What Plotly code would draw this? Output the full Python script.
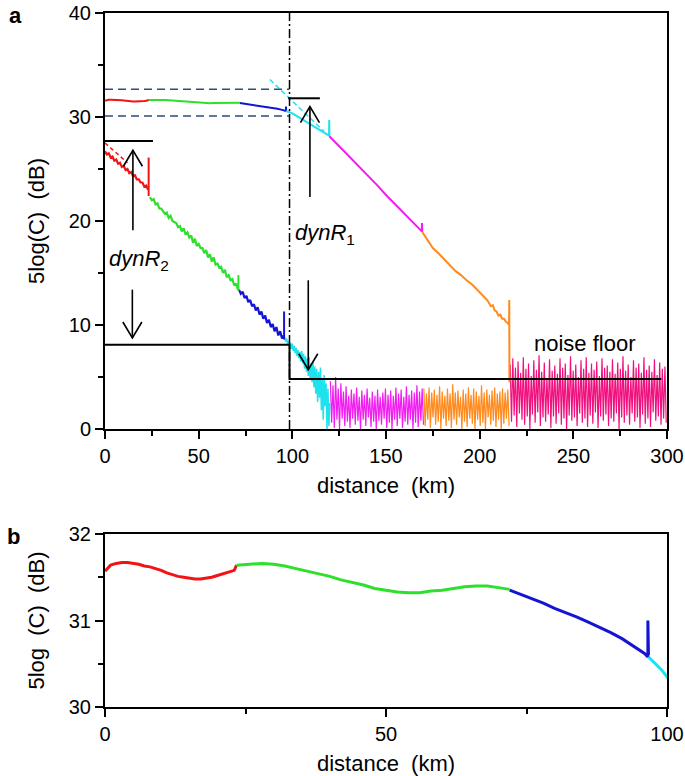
import plotly.graph_objects as go

FONT = "Liberation Sans, Arial, sans-serif"

C_RED = "#F01414"
C_GREEN = "#2CE02C"
C_BLUE = "#1414D2"
C_CYAN = "#1EE3EE"
C_MAGENTA = "#F01EF0"
C_ORANGE = "#FF8A1E"
C_PINK = "#F0107E"
C_NAVY = "#2E4C7C"

# ---------------- upper trace (dB) ----------------
red_up_x = [0, 1, 2, 3, 4, 5, 6, 7, 8, 9, 10, 11, 12, 13, 14, 15, 16, 17, 18, 19, 20, 21, 22, 23, 23.4]
red_up_y = [31.57, 31.64, 31.66, 31.67, 31.67, 31.66, 31.65, 31.63, 31.62, 31.60, 31.58, 31.55,
            31.53, 31.51, 31.50, 31.49, 31.48, 31.48, 31.49, 31.50, 31.52, 31.54, 31.56, 31.58, 31.64]
green_up_x = [23.4, 26, 28, 30, 32, 34, 36, 38, 40, 42, 44, 46, 48, 50, 52, 54, 56, 58, 60, 62, 64, 66, 68, 70, 72]
green_up_y = [31.64, 31.65, 31.66, 31.65, 31.63, 31.60, 31.57, 31.54, 31.51, 31.47, 31.44, 31.41, 31.37,
              31.35, 31.33, 31.32, 31.32, 31.34, 31.35, 31.37, 31.39, 31.40, 31.40, 31.38, 31.36]
blue_up_x = [72, 74, 76, 78, 80, 82, 84, 86, 88, 90, 92, 94, 96, 96.6, 96.6, 96.7]
blue_up_y = [31.35, 31.30, 31.25, 31.20, 31.14, 31.09, 31.04, 30.98, 30.92, 30.86, 30.79, 30.71, 30.62,
             30.58, 31.00, 30.60]
cyan_up_x = [96.7, 98, 99, 100, 102, 105, 108, 111, 114, 117, 119.6, 119.7, 119.8]
cyan_up_y = [30.58, 30.50, 30.43, 30.35, 30.13, 29.80, 29.47, 29.14, 28.81, 28.48, 28.20, 29.70, 28.15]
magenta_up_x = [119.8, 125, 130, 135, 140, 145, 150, 155, 160, 165, 169.1, 169.2, 169.3]
magenta_up_y = [28.15, 27.2, 26.3, 25.3, 24.4, 23.5, 22.5, 21.6, 20.7, 19.8, 19.0, 19.8, 18.95]
orange_up_x = [169.3, 172, 175, 178, 181, 184, 187, 190, 193, 196, 199, 202, 204, 206, 207, 208, 209, 210,
               211, 212, 213, 214, 215, 215.7, 215.8, 215.9]
orange_up_y = [18.95, 18.2, 17.4, 16.9, 16.3, 15.8, 15.2, 14.8, 14.3, 13.9, 13.3, 12.8, 12.4, 11.8, 11.9,
               11.4, 11.3, 10.9, 11.0, 10.6, 10.6, 10.3, 10.2, 10.0, 12.4, 4.5]

# fitted (dashed) extensions
red_fit_x = [0, 12]
red_fit_y = [27.5, 25.6]
cyan_fit_x = [88, 117]
cyan_fit_y = [33.6, 28.6]

# ---------------- lower trace (dB), sampled from x0 with step dx ----------------
red_lo_x0, red_lo_dx = 0.0, 1.0
red_lo = [26.7, 26.4, 26.5, 26.1, 26.2, 25.8, 25.9, 25.5, 25.6, 25.2, 25.3, 24.9, 25.0, 24.6, 24.7,
          24.3, 24.4, 24.0, 24.0, 23.7, 23.7, 23.3, 23.4, 23.0]
green_lo_x0, green_lo_dx = 24.0, 1.0
green_lo = [22.3, 22.0, 22.1, 21.6, 21.7, 21.2, 21.2, 21.0, 20.7, 20.8,
            20.3, 20.5, 20.0, 19.9, 19.8, 19.4, 19.5, 19.0, 19.3, 18.7,
            18.9, 18.4, 18.6, 17.9, 18.3, 17.6, 17.8, 17.4, 17.4, 16.9,
            17.2, 16.5, 16.8, 16.1, 16.5, 15.8, 15.9, 15.5, 15.6, 15.0,
            15.3, 14.6, 14.8, 14.3, 14.4, 13.8, 14.0, 13.4]
blue_lo_x0, blue_lo_dx = 71.5, 1.0
blue_lo = [13.4, 13.0, 13.2, 12.6, 12.8, 12.2, 12.4, 11.8, 12.0, 11.4, 11.7, 11.0, 11.3, 10.6, 10.9,
           10.2, 10.5, 9.8, 10.1, 9.4, 9.8, 9.0, 9.4, 8.7, 9.0]
cyan_lo_x0, cyan_lo_dx = 96.0, 0.5
cyan_lo = [8.8, 8.4, 8.7, 8.1, 8.5, 7.9, 8.3, 7.7, 8.2, 7.5,
           8.0, 7.3, 7.8, 7.0, 7.6, 6.8, 7.4, 6.5, 7.5, 6.3,
           7.2, 5.8, 7.0, 5.5, 6.8, 5.1, 6.9, 4.8, 6.3, 4.5,
           6.5, 4.0, 6.0, 3.4, 5.8, 2.6, 5.5, 3.0, 5.9, 1.8,
           4.8, 0.9, 5.2, 2.2, 4.4, 0.0, 3.9, 0.3, 2.5]
# spikes at span ends: position, low, high
spike_x = [23.3, 71.2, 95.6]
spike_lo = [22.4, 13.3, 8.6]
spike_hi = [26.1, 14.8, 11.3]
spike_col = [C_RED, C_GREEN, C_BLUE]

# noise
mag_x0, noise_dx = 120.3, 0.7
mag_noise = [4.6, 0.6, 4.2, 0.1, 5.0, 0.9, 3.9, 0.0, 4.4, 1.0,
             3.6, 0.3, 4.1, 0.7, 3.2, 0.1, 3.8, 1.0, 3.4, 0.4,
             4.0, 0.8, 3.1, 0.0, 3.7, 0.9, 3.3, 0.3, 3.9, 1.1,
             3.0, 0.2, 3.6, 0.7, 3.2, 0.0, 3.8, 0.8, 3.1, 0.4,
             3.5, 1.0, 3.9, 0.1, 3.3, 0.6, 3.7, 0.0, 3.2, 0.9,
             4.0, 0.3, 3.4, 1.0, 3.8, 0.1, 3.1, 0.7, 4.1, 0.4,
             3.3, 0.9, 3.7, 0.0, 3.5, 0.6, 4.2, 0.2, 3.6, 0.8,
             3.9, 0.4]
org_x0 = 170.2
org_noise = [3.9, 0.3, 3.4, 0.9, 4.0, 0.1, 3.5, 1.1, 3.8, 0.4,
             3.3, 0.7, 4.1, 0.0, 3.6, 1.0, 3.2, 0.3, 3.9, 0.8,
             3.4, 0.1, 4.3, 0.9, 3.5, 0.4, 3.7, 1.1, 3.1, 0.0,
             3.8, 0.7, 3.4, 0.2, 4.0, 1.0, 3.3, 0.5, 3.9, 0.0,
             3.6, 0.9, 3.2, 0.3, 4.2, 0.6, 3.5, 0.0, 3.8, 1.1,
             3.3, 0.4, 3.7, 0.8, 4.0, 0.2, 3.4, 0.9, 3.6, 0.0,
             3.9, 0.5, 3.5, 1.0, 3.8, 0.3]
pink_x0 = 216.3
pink_noise = [6.2, 0.7, 6.8, 1.3, 5.9, 0.2, 6.5, 1.5, 5.4, 0.9,
              6.9, 0.4, 5.8, 1.2, 6.3, 0.0, 5.1, 1.4, 6.6, 0.6,
              5.7, 1.6, 7.1, 0.3, 5.5, 1.1, 6.4, 0.7, 4.9, 1.4,
              6.7, 0.1, 5.6, 1.2, 6.1, 0.5, 5.3, 1.5, 6.8, 0.4,
              5.9, 1.0, 6.3, 0.0, 5.2, 1.3, 7.0, 0.8, 5.6, 1.1,
              6.2, 0.3, 5.0, 1.5, 6.6, 0.6, 5.8, 1.0, 6.9, 0.2,
              5.4, 1.3, 6.3, 0.5, 5.7, 1.6, 6.5, 0.1, 5.1, 1.2,
              6.8, 0.8, 5.9, 1.4, 6.1, 0.3, 5.5, 1.0, 6.7, 0.7,
              5.3, 1.5, 6.4, 0.0, 5.8, 1.1, 7.0, 0.6, 5.6, 1.3,
              6.2, 0.4, 5.0, 1.5, 6.6, 0.7, 5.9, 1.1, 6.3, 0.1,
              5.4, 1.4, 6.9, 0.5, 5.7, 1.0, 6.1, 0.2, 5.5, 1.6,
              6.7, 0.8, 5.2, 1.2, 6.4, 0.4, 5.8, 1.0, 6.0, 0.6]

# reference levels (dB) and positions (km)
floor_x = [0, 98.5, 98.5, 297]
floor_y = [8.1, 8.1, 4.8, 4.8]
dynr2_top_x = [0, 25.6]
dynr2_top_y = [27.7, 27.7]
dynr1_top_x = [97.8, 114.7]
dynr1_top_y = [31.8, 31.8]
band_x = [0, 98.5]
band_hi = 32.66
band_lo = 30.1
span_end_km = 98.5
# arrows: x, tail, head
arrow_x = [14.9, 14.6, 109.4, 108.5]
arrow_tail = [19.1, 13.4, 22.3, 14.3]
arrow_head = [26.8, 8.75, 31.0, 5.7]

# ---------------- geometry ----------------
W, H = 685, 776
ML, MR, MT, MB = 105, 18, 13, 69
PLOT_W = W - ML - MR
PLOT_H = H - MT - MB
A_BOTTOM = (PLOT_H - (429 - 13)) / PLOT_H
B_TOP = (707 - 534) / PLOT_H
XA_RANGE = [0, 300]
YA_RANGE = [0, 40]
px_per_km = PLOT_W / (XA_RANGE[1] - XA_RANGE[0])
px_per_db = (1 - A_BOTTOM) * PLOT_H / (YA_RANGE[1] - YA_RANGE[0])
HEAD_HALF_W_PX, HEAD_LEN_PX = 9.5, 16

fig = go.Figure()


def line(x, y, color, width, dash=None, xa="x", ya="y"):
    fig.add_trace(go.Scatter(x=x, y=y, mode="lines", xaxis=xa, yaxis=ya,
                             line=dict(color=color, width=width, dash=dash),
                             hoverinfo="skip", showlegend=False))


def sampled(y, x0, dx, color, width):
    fig.add_trace(go.Scatter(y=y, x0=x0, dx=dx, mode="lines",
                             line=dict(color=color, width=width),
                             hoverinfo="skip", showlegend=False))


# noise first
sampled(mag_noise, mag_x0, noise_dx, C_MAGENTA, 1.2)
sampled(org_noise, org_x0, noise_dx, C_ORANGE, 1.2)
sampled(pink_noise, pink_x0, noise_dx, C_PINK, 1.2)
sampled(cyan_lo, cyan_lo_x0, cyan_lo_dx, C_CYAN, 1.5)

# lower trace
sampled(red_lo, red_lo_x0, red_lo_dx, C_RED, 2.2)
sampled(green_lo, green_lo_x0, green_lo_dx, C_GREEN, 2.2)
sampled(blue_lo, blue_lo_x0, blue_lo_dx, C_BLUE, 2.2)
for sx, lo, hi, col in zip(spike_x, spike_lo, spike_hi, spike_col):
    line([sx, sx], [lo, hi], col, 2)
line(red_fit_x, red_fit_y, C_RED, 1.5, "4px,3px")

# upper trace (panel a)
for xs, ys, col in [(red_up_x, red_up_y, C_RED), (green_up_x, green_up_y, C_GREEN),
                    (blue_up_x, blue_up_y, C_BLUE), (cyan_up_x, cyan_up_y, C_CYAN),
                    (magenta_up_x, magenta_up_y, C_MAGENTA), (orange_up_x, orange_up_y, C_ORANGE)]:
    line(xs, ys, col, 2)
line(cyan_fit_x, cyan_fit_y, C_CYAN, 1.5, "5px,3px")

# reference lines
line(band_x, [band_hi, band_hi], C_NAVY, 1.5, "8px,5px")
line(band_x, [band_lo, band_lo], C_NAVY, 1.5, "8px,5px")
line([span_end_km, span_end_km], list(YA_RANGE), "black", 1.5, "9px,3px,2px,3px")
line(floor_x, floor_y, "black", 2)
line(dynr2_top_x, dynr2_top_y, "black", 2)
line(dynr1_top_x, dynr1_top_y, "black", 2)

# arrows with open V heads
hw = HEAD_HALF_W_PX / px_per_km
hl = HEAD_LEN_PX / px_per_db
for ax_, t, h in zip(arrow_x, arrow_tail, arrow_head):
    s = 1 if h > t else -1
    line([ax_, ax_, None, ax_ - hw, ax_, ax_ + hw],
         [t, h, None, h - s * hl, h, h - s * hl], "black", 1.6)

# panel b
for xs, ys, col in [(red_up_x, red_up_y, C_RED), (green_up_x, green_up_y, C_GREEN),
                    (blue_up_x, blue_up_y, C_BLUE), (cyan_up_x, cyan_up_y, C_CYAN)]:
    line(xs, ys, col, 3, xa="x2", ya="y2")

txt = dict(family=FONT, size=22, color="black")
fig.add_annotation(x=0.8, y=16.25, xref="x", yref="y", text="<i>dynR</i><sub>2</sub>",
                   showarrow=False, xanchor="left", yanchor="middle", font=txt)
fig.add_annotation(x=100.1, y=18.75, xref="x", yref="y", text="<i>dynR</i><sub>1</sub>",
                   showarrow=False, xanchor="left", yanchor="middle", font=txt)
fig.add_annotation(x=256, y=8.2, xref="x", yref="y", text="noise floor",
                   showarrow=False, xanchor="center", yanchor="middle", font=txt)
lbl = dict(family=FONT, size=22, color="black")
fig.add_annotation(x=(15 - ML) / PLOT_W, y=(H - MB - 15) / PLOT_H, xref="paper", yref="paper",
                   text="<b>a</b>", showarrow=False, xanchor="center", yanchor="middle", font=lbl)
fig.add_annotation(x=(13 - ML) / PLOT_W, y=(H - MB - 536) / PLOT_H, xref="paper", yref="paper",
                   text="<b>b</b>", showarrow=False, xanchor="center", yanchor="middle", font=lbl)

tickfont = dict(family=FONT, size=20, color="black")
titlefont = dict(family=FONT, size=22, color="black")
common = dict(showline=True, linecolor="black", linewidth=2, mirror=True, ticks="outside",
              ticklen=8, tickwidth=2, tickcolor="black", showgrid=False, zeroline=False,
              tickfont=tickfont, automargin=False, ticklabeloverflow="allow")


def minor(d):
    return dict(dtick=d, ticks="outside", ticklen=5, tickwidth=2, tickcolor="black", showgrid=False)


fig.update_layout(
    width=W, height=H, autosize=False,
    margin=dict(l=ML, r=MR, t=MT, b=MB, pad=0),
    paper_bgcolor="white", plot_bgcolor="white",
    showlegend=False, hovermode=False,
    xaxis=dict(domain=[0, 1], range=XA_RANGE, dtick=50, tick0=0, minor=minor(25), anchor="y",
               title=dict(text="distance  (km)", font=titlefont, standoff=12), **common),
    yaxis=dict(domain=[A_BOTTOM, 1], range=YA_RANGE, dtick=10, tick0=0, minor=minor(5), anchor="x",
               title=dict(text="5log(C)  (dB)", font=titlefont, standoff=18), **common),
    xaxis2=dict(domain=[0, 1], range=[0, 100], dtick=50, tick0=0, minor=minor(25), anchor="y2",
                title=dict(text="distance  (km)", font=titlefont, standoff=12), **common),
    yaxis2=dict(domain=[0, B_TOP], range=[30, 32], dtick=1, tick0=30, minor=minor(0.5), anchor="x2",
                title=dict(text="5log  (C)  (dB)", font=titlefont, standoff=18), **common),
)

fig.write_html("out.html", config={"displayModeBar": False},
               post_script="document.body.style.margin='0';")
